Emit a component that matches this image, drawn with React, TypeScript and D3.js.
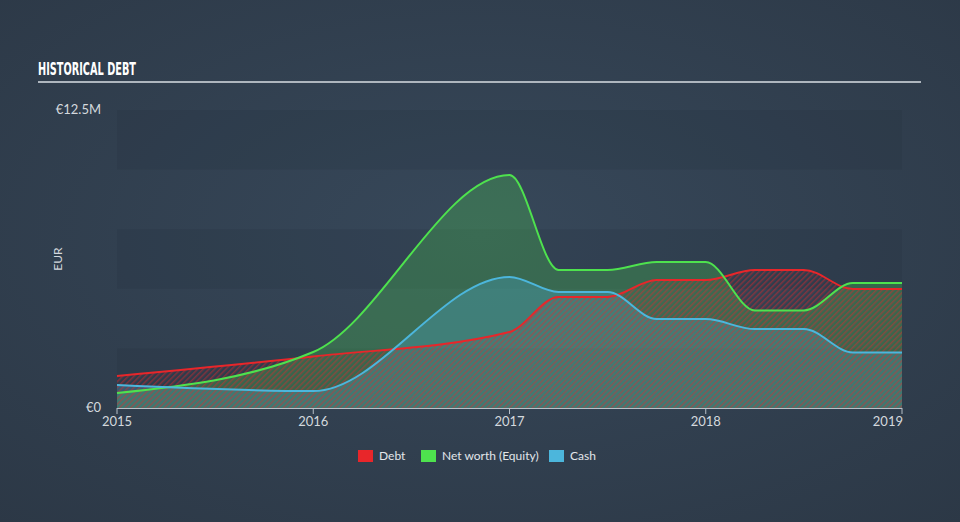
import React from "react";
import * as d3 from "d3";

const periods = [2015, 2016, 2017, 2017.25, 2017.5, 2017.75, 2018, 2018.25, 2018.5, 2018.75, 2019];
const debt = [1.34, 2.16, 3.19, 4.66, 4.66, 5.37, 5.37, 5.79, 5.79, 4.99, 4.99];
const equity = [0.63, 2.35, 9.77, 5.79, 5.79, 6.12, 6.12, 4.09, 4.09, 5.24, 5.24];
const cash = [0.96, 0.71, 5.5, 4.87, 4.87, 3.73, 3.73, 3.31, 3.31, 2.33, 2.33];

const xTicks = [2015, 2016, 2017, 2018, 2019];
const yTickValues = [0, 12.5];
const yTickLabels = ["€0", "€12.5M"];
const bandEdges = [0, 2.5, 5, 7.5, 10, 12.5];

const legendItems = [
  { name: "Debt", color: "#e8262a" },
  { name: "Net worth (Equity)", color: "#4ee24e" },
  { name: "Cash", color: "#4cb6dc" },
];

const W = 960;
const H = 522;
const L = 117, R = 902, T = 110, B = 408;

export default function App() {
  const x = d3.scaleLinear().domain([2015, 2019]).range([L, R]);
  const y = d3.scaleLinear().domain([0, 12.5]).range([B, T]);

  const mk = (vals: number[]) => periods.map((p, i) => ({ p, v: vals[i] }));
  const area = d3
    .area<{ p: number; v: number }>()
    .x((d) => x(d.p))
    .y0(y(0))
    .y1((d) => y(d.v))
    .curve(d3.curveMonotoneX);
  const line = d3
    .line<{ p: number; v: number }>()
    .x((d) => x(d.p))
    .y((d) => y(d.v))
    .curve(d3.curveMonotoneX);

  const font = "Lato, 'Open Sans', sans-serif";
  const legendX = [358, 421, 549];

  return (
    <svg
      width={W}
      height={H}
      style={{ position: "absolute", left: 0, top: 0, display: "block" }}
    >
      <defs>
        <radialGradient id="bg" cx="50%" cy="45%" r="75%">
          <stop offset="0%" stopColor="#37485a" />
          <stop offset="100%" stopColor="#2c3846" />
        </radialGradient>
        <pattern
          id="hatch"
          width="4"
          height="4"
          patternUnits="userSpaceOnUse"
          patternTransform="rotate(45)"
        >
          <rect x="0" y="0" width="1.5" height="4" fill="#e8262a" fillOpacity="0.45" />
        </pattern>
      </defs>
      <rect x={0} y={0} width={W} height={H} fill="url(#bg)" />

      {/* title */}
      <text
        x={38}
        y={75}
        fill="#ffffff"
        fontFamily="'DejaVu Sans Condensed', 'DejaVu Sans', sans-serif"
        fontWeight="bold"
        fontSize={18}
        textLength={98}
        lengthAdjust="spacingAndGlyphs"
      >
        HISTORICAL DEBT
      </text>
      <line x1={38} x2={921} y1={82} y2={82} stroke="#aeb6be" strokeWidth={2} />

      {/* bands */}
      {bandEdges.slice(0, -1).map((b, i) =>
        i % 2 === 0 ? (
          <rect
            key={i}
            x={L}
            width={R - L}
            y={y(bandEdges[i + 1])}
            height={y(b) - y(bandEdges[i + 1])}
            fill="#1e2a38"
            fillOpacity={0.16}
          />
        ) : null
      )}

      {/* areas */}
      <path d={area(mk(equity)) || ""} fill="#4ee24e" fillOpacity={0.25} />
      <path d={area(mk(cash)) || ""} fill="#4cb6dc" fillOpacity={0.27} />
      <path d={area(mk(debt)) || ""} fill="url(#hatch)" />

      {/* lines */}
      <path d={line(mk(debt)) || ""} fill="none" stroke="#e8262a" strokeWidth={2} />
      <path d={line(mk(equity)) || ""} fill="none" stroke="#4ee24e" strokeWidth={2} />
      <path d={line(mk(cash)) || ""} fill="none" stroke="#4cb6dc" strokeWidth={2} />

      {/* x axis */}
      <line x1={L} x2={R} y1={B + 0.5} y2={B + 0.5} stroke="#b8c0c8" strokeWidth={1} />
      {xTicks.map((t, i) => (
        <g key={t}>
          <line x1={x(t)} x2={x(t)} y1={B} y2={B + 6} stroke="#b8c0c8" strokeWidth={1} />
          <text
            x={i === xTicks.length - 1 ? x(t) + 1 : x(t)}
            y={426}
            textAnchor={i === xTicks.length - 1 ? "end" : "middle"}
            fill="#d4d9de"
            fontFamily={font}
            fontSize={13}
          >
            {t}
          </text>
        </g>
      ))}

      {/* y labels */}
      {yTickValues.map((v, i) => (
        <text
          key={v}
          x={101}
          y={y(v) + 4}
          textAnchor="end"
          fill="#d4d9de"
          fontFamily={font}
          fontSize={13}
        >
          {yTickLabels[i]}
        </text>
      ))}
      <text
        transform={`translate(62, ${(T + B) / 2}) rotate(-90)`}
        textAnchor="middle"
        fill="#d4d9de"
        fontFamily={font}
        fontSize={12}
      >
        EUR
      </text>

      {/* legend */}
      {legendItems.map((it, i) => (
        <g key={it.name}>
          <rect x={legendX[i]} y={450} width={15} height={12} fill={it.color} />
          <text
            x={legendX[i] + 21}
            y={460}
            fill="#e2e6ea"
            fontFamily={font}
            fontSize={12}
          >
            {it.name}
          </text>
        </g>
      ))}
    </svg>
  );
}
